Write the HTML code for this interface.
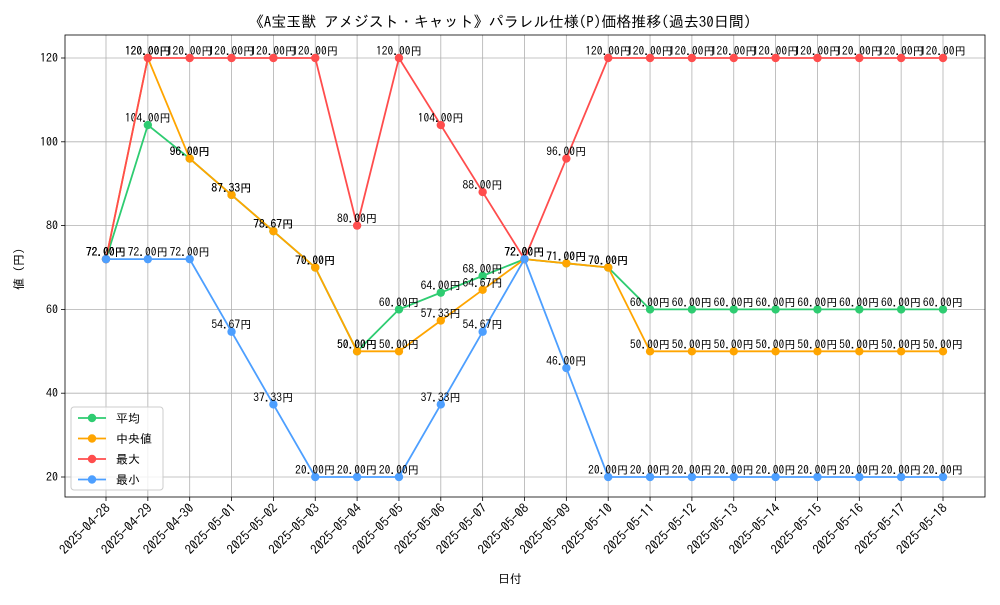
<!DOCTYPE html>
<html><head><meta charset="utf-8"><style>
body{margin:0;background:#fff;}
svg text{font-family:"IPAGothic","Liberation Sans","Noto Sans CJK JP",sans-serif;fill:#000;}
</style></head><body>
<svg id="chart" width="1000" height="600" xmlns="http://www.w3.org/2000/svg">
<rect width="1000" height="600" fill="#fff"/>
<text x="500" y="27" font-size="15" text-anchor="middle">《A宝玉獣 アメジスト・キャット》パラレル仕様(P)価格推移(過去30日間)</text>
<g id="grid"></g><g id="axes"></g><g id="series"></g>
<text x="510" y="583" font-size="12" text-anchor="middle">日付</text>
<text transform="translate(23,266) rotate(-90)" font-size="12" text-anchor="middle">値（円）</text>
<g id="legend"></g>
</svg>
<script>
const dates=["2025-04-28","2025-04-29","2025-04-30","2025-05-01","2025-05-02","2025-05-03","2025-05-04","2025-05-05","2025-05-06","2025-05-07","2025-05-08","2025-05-09","2025-05-10","2025-05-11","2025-05-12","2025-05-13","2025-05-14","2025-05-15","2025-05-16","2025-05-17","2025-05-18"];
const avgVals=[72,104,96,87.33,78.67,70,50,60,64,68,72,71,70,60,60,60,60,60,60,60,60];
const medVals=[72,120,96,87.33,78.67,70,50,50,57.33,64.67,72,71,70,50,50,50,50,50,50,50,50];
const maxVals=[72,120,120,120,120,120,80,120,104,88,72,96,120,120,120,120,120,120,120,120,120];
const minVals=[72,72,72,54.67,37.33,20,20,20,37.33,54.67,72,46,20,20,20,20,20,20,20,20,20];
const yTicks=[20,40,60,80,100,120];
const seriesNames=["平均","中央値","最大","最小"];
const seriesColors=["#2ecc71","#ffa500","#ff4d4d","#4d9fff"];

const L=65,R=985,T=35,B=497;
const xScale=i=>106+i*(943-106)/(dates.length-1);
const yScale=v=>477-(v-20)*(477-58)/100;
const NS="http://www.w3.org/2000/svg";
function mk(tag,attrs,parent){const e=document.createElementNS(NS,tag);for(const k in attrs)e.setAttribute(k,attrs[k]);parent.appendChild(e);return e;}
const grid=document.getElementById('grid'),axes=document.getElementById('axes'),ser=document.getElementById('series');
dates.forEach((d,i)=>{
  const x=xScale(i);
  const g=mk('line',{x1:x,x2:x,y1:T,y2:B,stroke:'#b0b0b0','stroke-width':0.8},grid);
  
  
  mk('line',{x1:x,x2:x,y1:B,y2:B+4,stroke:'#000','stroke-width':0.8},axes);
  const t=mk('text',{x:0,y:0,'font-size':13,'text-anchor':'end',transform:`translate(${x+5},${B+12}) rotate(-45)`},axes);
  t.textContent=d;
  
  
});
yTicks.forEach(v=>{
  const y=yScale(v);
  const g=mk('line',{x1:L,x2:R,y1:y,y2:y,stroke:'#b0b0b0','stroke-width':0.8},grid);
  
  
  mk('line',{x1:L-4,x2:L,y1:y,y2:y,stroke:'#000','stroke-width':0.8},axes);
  const t=mk('text',{x:L-7,y:y+4,'font-size':12,'text-anchor':'end'},axes);
  t.textContent=v;
  
  
});
const fr=mk('rect',{x:L,y:T,width:R-L,height:B-T,fill:'none',stroke:'#000','stroke-width':0.8},axes);



const allVals=[avgVals,medVals,maxVals,minVals];
allVals.forEach((vals,s)=>{
  const c=seriesColors[s];
  const g=mk('g',{},ser);
  
  
  const p=mk('polyline',{points:vals.map((v,i)=>xScale(i)+','+yScale(v)).join(' '),fill:'none',stroke:c,'stroke-width':1.8},g);
  
  
  vals.forEach((v,i)=>{
    const m=mk('circle',{cx:xScale(i),cy:yScale(v),r:4.2,fill:c},g);
    
    
    const t=mk('text',{x:xScale(i),y:yScale(v)-3,'font-size':11.5,'text-anchor':'middle'},g);
    t.textContent=v.toFixed(2)+'円';
    
    
  });
});
const lg=document.getElementById('legend');
const box=mk('rect',{x:71,y:407,width:92,height:83,fill:'#fff','fill-opacity':0.8,stroke:'#ccc',rx:3},lg);


seriesNames.forEach((n,i)=>{
  const y=418+i*20.5;
  const e=mk('g',{},lg);
  
  
  mk('line',{x1:78,x2:106,y1:y,y2:y,stroke:seriesColors[i],'stroke-width':1.8},e);
  mk('circle',{cx:92,cy:y,r:4.2,fill:seriesColors[i]},e);
  const t=mk('text',{x:116,y:y+4.5,'font-size':12},e);
  t.textContent=n;
});
</script>
</body></html>
